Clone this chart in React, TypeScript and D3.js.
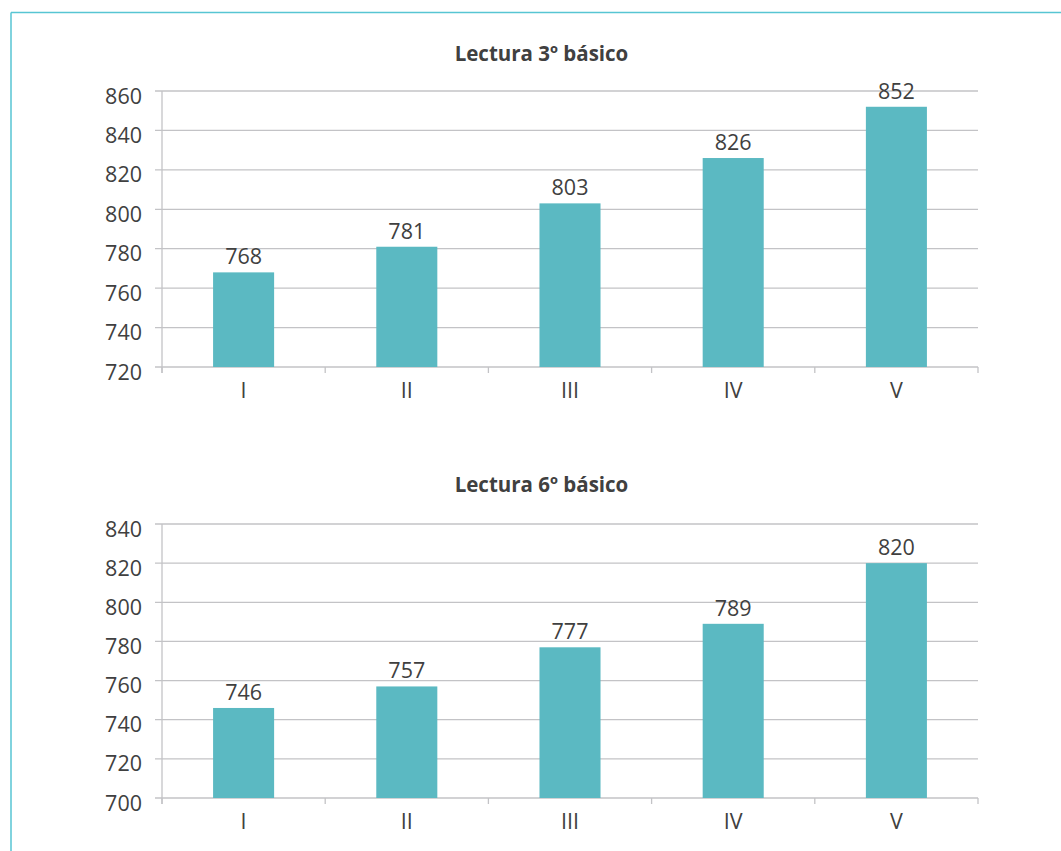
import React from "react";
import * as d3 from "d3";

// Reading scores by group (I–V) for 3rd and 6th grade
const categories = ["I", "II", "III", "IV", "V"];
const lectura3Values = [768, 781, 803, 826, 852];
const lectura6Values = [746, 757, 777, 789, 820];
const lectura3Ticks = [720, 740, 760, 780, 800, 820, 840, 860];
const lectura6Ticks = [700, 720, 740, 760, 780, 800, 820, 840];

const W = 1061;
const H = 851;
const BAR = "#5bb9c2";
const GRID = "#c3c3c6";
const TEXT = "#404040";
const FRAME = "#57c5d3";
const FONT = "'Open Sans', 'Noto Sans', sans-serif";

type PanelProps = {
  title: string;
  values: number[];
  ticks: number[];
  top: number;
  bottom: number;
  titleY: number;
};

function Panel({ title, values, ticks, top, bottom, titleY }: PanelProps) {
  const left = 162;
  const right = 978;
  const x = d3
    .scaleBand<string>()
    .domain(categories)
    .range([left, right])
    .paddingInner(0.626)
    .paddingOuter(0.313);
  const y = d3
    .scaleLinear()
    .domain([ticks[0], ticks[ticks.length - 1]])
    .range([bottom, top]);
  const step = x.step();
  const boundaries = d3.range(categories.length + 1).map((i) => left + i * step);

  return (
    <g>
      <text
        x={541.5}
        y={titleY}
        textAnchor="middle"
        fontFamily={FONT}
        fontWeight={700}
        fontSize={20.5}
        fill={TEXT}
      >
        {title}
      </text>
      {ticks.map((t) => (
        <g key={t}>
          <line x1={left - 7} x2={right} y1={y(t)} y2={y(t)} stroke={GRID} strokeWidth={1.3} />
          <text
            x={142}
            y={y(t) + 12.5}
            textAnchor="end"
            fontFamily={FONT}
            fontSize={21.5}
            fill={TEXT}
          >
            {t}
          </text>
        </g>
      ))}
      <line x1={left} x2={left} y1={top} y2={bottom + 6} stroke={GRID} strokeWidth={1.3} />
      {boundaries.map((b, i) => (
        <line key={i} x1={b} x2={b} y1={bottom} y2={bottom + 6} stroke={GRID} strokeWidth={1.3} />
      ))}
      {values.map((v, i) => {
        const c = categories[i];
        const bx = x(c) as number;
        return (
          <g key={c}>
            <rect x={bx} y={y(v)} width={x.bandwidth()} height={bottom - y(v)} fill={BAR} />
            <text
              x={bx + x.bandwidth() / 2}
              y={y(v) - 8}
              textAnchor="middle"
              fontFamily={FONT}
              fontSize={21.5}
              fill={TEXT}
            >
              {v}
            </text>
            <text
              x={bx + x.bandwidth() / 2}
              y={bottom + 31}
              textAnchor="middle"
              fontFamily={FONT}
              fontSize={21.5}
              fill={TEXT}
            >
              {c}
            </text>
          </g>
        );
      })}
    </g>
  );
}

export default function App() {
  return (
    <svg
      width={W}
      height={H}
      viewBox={`0 0 ${W} ${H}`}
      style={{ position: "absolute", left: 0, top: 0, background: "#fff" }}
    >
      <rect x={0} y={0} width={W} height={H} fill="#fff" />
      <line x1={11} x2={W} y1={12.5} y2={12.5} stroke={FRAME} strokeWidth={1.5} />
      <line x1={11} x2={11} y1={12.5} y2={H} stroke={FRAME} strokeWidth={1.5} />
      <Panel
        title="Lectura 3º básico"
        values={lectura3Values}
        ticks={lectura3Ticks}
        top={91}
        bottom={367}
        titleY={61}
      />
      <Panel
        title="Lectura 6º básico"
        values={lectura6Values}
        ticks={lectura6Ticks}
        top={524}
        bottom={798}
        titleY={492}
      />
    </svg>
  );
}
